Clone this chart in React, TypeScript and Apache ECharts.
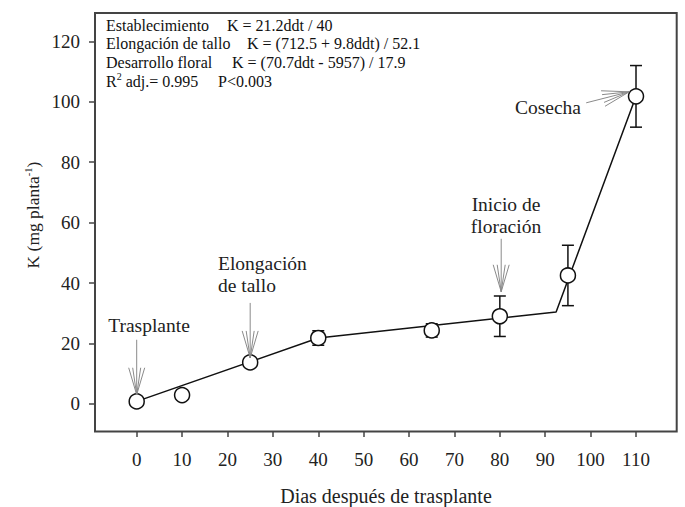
import React, { useEffect, useRef } from "react";
import * as echarts from "echarts";

// Days after transplant and K content (mg planta^-1)
const days = [0, 10, 25, 40, 65, 80, 95, 110];
const kValues = [0.8, 2.9, 13.7, 21.8, 24.3, 29.0, 42.5, 101.8];
const kErrors = [0.3, 0.5, 1.0, 2.4, 2.2, 6.7, 10.0, 10.2];

// Fitted piecewise regression line (vertices)
const fitDays = [0, 40, 92.4, 110];
const fitK = [0.8, 21.8, 30.4, 101.8];

const xTicks = [0, 10, 20, 30, 40, 50, 60, 70, 80, 90, 100, 110];
const yTicks = [0, 20, 40, 60, 80, 100, 120];

// Annotation arrows: tip in data coords
const arrowTipDays = [0, 25, 80.3, 108.5];
const arrowTipK = [3.0, 15.2, 37.1, 103.3];

const FONT = "'Liberation Serif', 'DejaVu Serif', 'Times New Roman', serif";

export default function App() {
  const ref = useRef<HTMLDivElement>(null);

  useEffect(() => {
    if (!ref.current) return;
    const chart = echarts.init(ref.current, null, { renderer: "svg" });

    // tail offsets in px for each arrow (layout only)
    const tailOffsets = [
      [0, -55],
      [0, -55],
      [0, -53],
      [-43, 11],
    ];
    const Y_MIN = -9;

    const option: any = {
      animation: false,
      backgroundColor: "#fff",
      textStyle: { fontFamily: FONT },
      grid: { left: 91.3, right: 3.6, top: 13, bottom: 76, show: false, outerBoundsMode: "none" },
      xAxis: {
        type: "value",
        min: -10,
        max: 120,
        interval: 10,
        splitLine: { show: false },
        axisLine: { show: false, onZero: false },
        axisTick: { show: true, length: 6, customValues: xTicks, lineStyle: { color: "#444", width: 1.5 } },
        axisLabel: { show: false },
      },
      yAxis: {
        type: "value",
        min: Y_MIN,
        max: 129.4,
        offset: -3.7,
        splitLine: { show: false },
        axisLine: { show: false, onZero: false },
        axisTick: { show: true, length: 6, customValues: yTicks, lineStyle: { color: "#444", width: 1.5 } },
        axisLabel: { customValues: yTicks, hideOverlap: false, margin: 15, fontFamily: FONT, fontSize: 19, color: "#222" },
      },
      graphic: [
        { type: "rect", shape: { x: 95, y: 13, width: 581.7, height: 418.5 }, style: { fill: "none", stroke: "#444", lineWidth: 2 }, silent: true },
        { type: "text", x: 386, y: 496, style: { text: "Dias después de trasplante", fontFamily: FONT, fontSize: 20, fill: "#222", align: "center", verticalAlign: "middle" } },
        {
          type: "text",
          x: 33,
          y: 215,
          rotation: Math.PI / 2,
          style: {
            text: "K (mg planta{sup|-1})",
            fontFamily: FONT,
            fontSize: 17.5,
            fill: "#222",
            align: "center",
            verticalAlign: "middle",
            rich: { sup: { fontFamily: FONT, fontSize: 10.5, fill: "#222", verticalAlign: "top", padding: [0, 0, 9, 0] } },
          },
        },
        // equations block
        { type: "text", x: 106, y: 25, style: { text: "Establecimiento", fontFamily: FONT, fontSize: 16, fill: "#111", verticalAlign: "middle" } },
        { type: "text", x: 227, y: 25, style: { text: "K = 21.2ddt / 40", fontFamily: FONT, fontSize: 16, fill: "#111", verticalAlign: "middle" } },
        { type: "text", x: 106, y: 43.5, style: { text: "Elongación de tallo", fontFamily: FONT, fontSize: 16, fill: "#111", verticalAlign: "middle" } },
        { type: "text", x: 247, y: 43.5, style: { text: "K = (712.5 + 9.8ddt) / 52.1", fontFamily: FONT, fontSize: 16, fill: "#111", verticalAlign: "middle" } },
        { type: "text", x: 106, y: 62, style: { text: "Desarrollo floral", fontFamily: FONT, fontSize: 16, fill: "#111", verticalAlign: "middle" } },
        { type: "text", x: 232, y: 62, style: { text: "K = (70.7ddt - 5957) / 17.9", fontFamily: FONT, fontSize: 16, fill: "#111", verticalAlign: "middle" } },
        {
          type: "text",
          x: 106,
          y: 81,
          style: {
            text: "R{sup|2} adj.= 0.995",
            fontFamily: FONT,
            fontSize: 16,
            fill: "#111",
            verticalAlign: "middle",
            rich: { sup: { fontFamily: FONT, fontSize: 10, fill: "#111", padding: [0, 0, 9, 0] } },
          },
        },
        { type: "text", x: 218, y: 81, style: { text: "P<0.003", fontFamily: FONT, fontSize: 16, fill: "#111", verticalAlign: "middle" } },
        // annotation labels
        { type: "text", x: 149, y: 325, style: { text: "Trasplante", fontFamily: FONT, fontSize: 19.5, fill: "#222", align: "center", verticalAlign: "middle" } },
        { type: "text", x: 218, y: 263, style: { text: "Elongación", fontFamily: FONT, fontSize: 19.5, fill: "#222", verticalAlign: "middle" } },
        { type: "text", x: 218, y: 285, style: { text: "de tallo", fontFamily: FONT, fontSize: 19.5, fill: "#222", verticalAlign: "middle" } },
        { type: "text", x: 506, y: 204, style: { text: "Inicio de", fontFamily: FONT, fontSize: 19.5, fill: "#222", align: "center", verticalAlign: "middle" } },
        { type: "text", x: 506, y: 226, style: { text: "floración", fontFamily: FONT, fontSize: 19.5, fill: "#222", align: "center", verticalAlign: "middle" } },
        { type: "text", x: 548, y: 107, style: { text: "Cosecha", fontFamily: FONT, fontSize: 19.5, fill: "#222", align: "center", verticalAlign: "middle" } },
      ],
      series: [
        { type: "line", data: fitDays.map((d, i) => [d, fitK[i]]), showSymbol: false, symbol: "none", lineStyle: { color: "#111", width: 1.5 }, z: 2 },
        {
          type: "custom",
          data: days.map((d, i) => [d, kValues[i], kErrors[i]]),
          clip: false,
          z: 3,
          renderItem: (params: any, api: any) => {
            const x = api.value(0);
            const y = api.value(1);
            const e = api.value(2);
            const top = api.coord([x, y + e]);
            const bot = api.coord([x, y - e]);
            const w = 6;
            const st = { stroke: "#111", lineWidth: 1.5 };
            return {
              type: "group",
              children: [
                { type: "line", shape: { x1: top[0], y1: top[1], x2: bot[0], y2: bot[1] }, style: st },
                { type: "line", shape: { x1: top[0] - w, y1: top[1], x2: top[0] + w, y2: top[1] }, style: st },
                { type: "line", shape: { x1: bot[0] - w, y1: bot[1], x2: bot[0] + w, y2: bot[1] }, style: st },
              ],
            };
          },
        },
        {
          type: "scatter",
          data: days.map((d, i) => [d, kValues[i]]),
          symbol: "circle",
          symbolSize: 15,
          itemStyle: { color: "#fff", borderColor: "#111", borderWidth: 1.5, opacity: 1 },
          z: 4,
        },
        {
          type: "custom",
          data: arrowTipDays.map((d, i) => [d, arrowTipK[i], i]),
          clip: false,
          z: 5,
          renderItem: (params: any, api: any) => {
            const tip = api.coord([api.value(0), api.value(1)]);
            const off = tailOffsets[api.value(2)];
            const tail = [tip[0] + off[0], tip[1] + off[1]];
            const dx = tip[0] - tail[0];
            const dy = tip[1] - tail[1];
            const len = Math.sqrt(dx * dx + dy * dy);
            const ux = dx / len;
            const uy = dy / len;
            const px = -uy;
            const py = ux;
            const L = 27;
            const st = { stroke: "#8a8a8a", lineWidth: 1 };
            const children: any[] = [{ type: "line", shape: { x1: tail[0], y1: tail[1], x2: tip[0], y2: tip[1] }, style: st }];
            [8, 4, -4, -8].forEach((w) => {
              children.push({ type: "line", shape: { x1: tip[0] - ux * L + px * w, y1: tip[1] - uy * L + py * w, x2: tip[0], y2: tip[1] }, style: st });
            });
            return { type: "group", children };
          },
        },
        {
          // x-axis tick labels, placed through the x scale
          type: "custom",
          data: xTicks.map((v) => [v]),
          clip: false,
          silent: true,
          z: 6,
          renderItem: (params: any, api: any) => {
            const v = api.value(0);
            const p = api.coord([v, Y_MIN]);
            return {
              type: "text",
              x: p[0],
              y: p[1] + 28.5,
              style: { text: String(v), fontFamily: FONT, fontSize: 19, fill: "#222", align: "center", verticalAlign: "middle" },
            };
          },
        },
      ],
    };

    chart.setOption(option);
    return () => chart.dispose();
  }, []);

  return <div ref={ref} style={{ position: "fixed", left: 0, top: 0, width: 685, height: 507 }} />;
}
